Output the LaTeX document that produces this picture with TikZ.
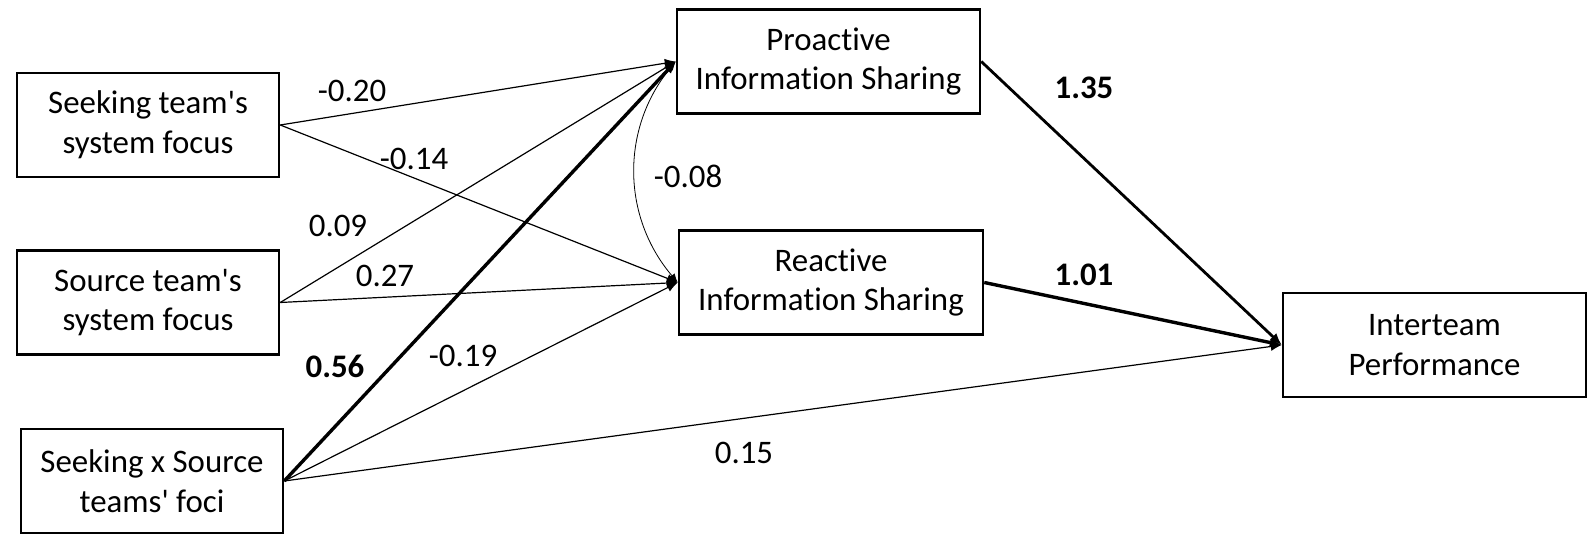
\documentclass[tikz,border=0pt]{standalone}
\usepackage{fontspec}
\setmainfont{Carlito}[Ligatures={NoCommon}]
\usetikzlibrary{arrows.meta}
\newcommand{\apos}{\textquotesingle}
\begin{document}
\begin{tikzpicture}[x=1bp,y=-1bp,
  var/.style={draw,line width=2.5bp,rectangle,minimum width=262bp,minimum height=104bp,
    inner sep=0pt,align=center,font=\fontsize{33}{40}\selectfont},
  wide/.style={var,minimum width=303bp},
  path/.style={line width=1.2bp,-{Latex[length=11bp,width=9bp]}},
  strong/.style={path,line width=3.4bp,-{Latex[length=12bp,width=10bp]}},
  medium/.style={path,line width=2.8bp,-{Latex[length=12bp,width=10bp]}},
  coef/.style={font=\fontsize{33}{40}\selectfont,inner sep=0pt},
  bcoef/.style={coef,font=\fontsize{33}{40}\selectfont\bfseries}]
\useasboundingbox (0,0) rectangle (1595,539);

% predictors
\node[var] (seek) at (148,125) {Seeking team\apos s\\system focus};
\node[var] (src)  at (148,302.5) {Source team\apos s\\system focus};
\node[var] (inter) at (152,481) {Seeking x Source\\teams\apos\ foci};

% mediators and outcome
\node[wide] (pro) at (828.5,61.5) {Proactive\\Information Sharing};
\node[wide,minimum width=304bp] (rea) at (831,282.5) {Reactive\\Information Sharing};
\node[wide] (perf) at (1434.5,345) {Interteam\\Performance};

% paths
\draw[path] (seek.east) -- (pro.west);
\draw[path] (seek.east) -- (rea.west);
\draw[path] (src.east) -- (pro.west);
\draw[path] (src.east) -- (rea.west);
\draw[strong] (inter.east) -- (pro.west);
\draw[path] (inter.east) -- (rea.west);
\draw[path] (inter.east) -- (perf.west);
\draw[medium] (pro.east) -- (perf.west);
\draw[strong] (rea.east) -- (perf.west);
\draw[line width=0.8bp,{Latex[length=9bp,width=7bp]}-{Latex[length=9bp,width=7bp]}]
  (pro.west) to[bend right=40] (rea.west);

% coefficients
\node[coef] (c1) at (352,91) {-0.20};
\node[coef] (c2) at (414,159) {-0.14};
\node[coef] (c3) at (338,226) {0.09};
\node[coef] (c4) at (385,276) {0.27};
\node[bcoef] (c5) at (335,366) {0.56};
\node[coef] (c6) at (463,356) {-0.19};
\node[coef] (c7) at (688,176) {-0.08};
\node[bcoef] (c8) at (1084,88) {1.35};
\node[bcoef] (c9) at (1084,275) {1.01};
\node[coef] (c10) at (744,453) {0.15};
\end{tikzpicture}
\end{document}
